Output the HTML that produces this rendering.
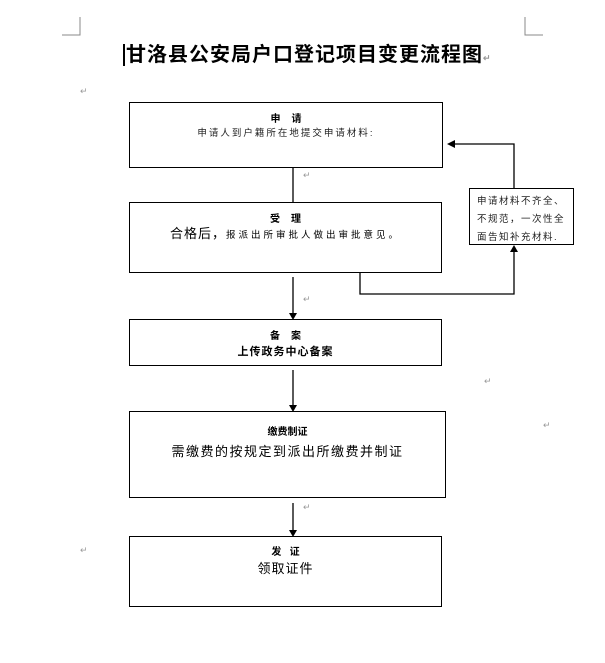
<!DOCTYPE html>
<html><head><meta charset="utf-8"><style>
body{margin:0;width:605px;height:663px;background:#fff;position:relative;overflow:hidden;font-family:"Liberation Sans","Noto Sans CJK SC",sans-serif;color:#000}
.a{position:absolute}
.box{position:absolute;border:1.3px solid #000;box-sizing:border-box;text-align:center}
.t{position:absolute;left:0;right:0;text-align:center;white-space:nowrap}
.m{color:#999;font-size:9px}
</style></head><body>
<svg class="a" style="left:0;top:0" width="605" height="663">
<g stroke="#888" fill="none" stroke-width="1">
<path d="M80 17V35H62"/><path d="M525 17V35H543"/>
</g>
<g stroke="#000" stroke-width="1.3" fill="none">
<path d="M293 168V202"/>
<path d="M293 277V314"/>
<path d="M293 370V406"/>
<path d="M293 503V531"/>
<path d="M360 273V294H514V251"/>
<path d="M514 188V144H454"/>
</g>
<g fill="#000">
<path d="M289 313L297 313L293 320Z"/>
<path d="M289 405L297 405L293 412Z"/>
<path d="M289 530L297 530L293 537Z"/>
<path d="M510 252L518 252L514 245Z"/>
<path d="M455 140L455 148L447 144Z"/>
</g>
</svg>
<div class="a" style="left:123px;top:38px;font-size:20px;font-weight:bold;letter-spacing:1px;white-space:nowrap"><span style="border-left:2px solid #000;padding-left:1px">甘洛县公安局户口登记项目变更流程图</span><span class="m">↵</span></div>
<div class="a m" style="left:80px;top:86px">↵</div>
<div class="box" style="left:129px;top:102px;width:314px;height:66px">
<div class="t" style="top:7px;font-size:10px;font-weight:bold">申&nbsp;&nbsp;&nbsp;&nbsp;请</div>
<div class="t" style="top:22px;font-size:9.5px;letter-spacing:2px;color:#222">申请人到户籍所在地提交申请材料:</div>
</div>
<div class="box" style="left:129px;top:202px;width:313px;height:71px">
<div class="t" style="top:7px;font-size:10px;font-weight:bold">受&nbsp;&nbsp;&nbsp;&nbsp;理</div>
<div class="t" style="top:20px;font-size:13px;letter-spacing:1px">合格后，<span style="font-size:9.5px;letter-spacing:3px">报派出所审批人做出审批意见。</span></div>
</div>
<div class="box" style="left:469px;top:188px;width:105px;height:57px;text-align:left;padding:4px 0 0 7px;font-size:9.5px;line-height:18px;letter-spacing:1.5px;color:#222">申请材料不齐全、<br>不规范，一次性全<br>面告知补充材料.</div>
<div class="box" style="left:129px;top:319px;width:313px;height:47px">
<div class="t" style="top:7px;font-size:10px;font-weight:bold">备&nbsp;&nbsp;&nbsp;&nbsp;案</div>
<div class="t" style="top:23px;font-size:11px;font-weight:bold;letter-spacing:1px">上传政务中心备案</div>
</div>
<div class="box" style="left:129px;top:411px;width:317px;height:87px">
<div class="t" style="top:11px;font-size:10px;font-weight:bold">缴费制证</div>
<div class="t" style="top:29px;font-size:13px;letter-spacing:1.5px">需缴费的按规定到派出所缴费并制证</div>
</div>
<div class="box" style="left:129px;top:536px;width:313px;height:71px">
<div class="t" style="top:6px;font-size:10px;font-weight:bold">发&nbsp;&nbsp;&nbsp;证</div>
<div class="t" style="top:21px;font-size:13px;letter-spacing:1px">领取证件</div>
</div>
<div class="a m" style="left:484px;top:376px">↵</div>
<div class="a m" style="left:543px;top:420px">↵</div>
<div class="a m" style="left:80px;top:545px">↵</div>
<div class="a m" style="left:303px;top:170px">↵</div>
<div class="a m" style="left:303px;top:294px">↵</div>
<div class="a m" style="left:303px;top:502px">↵</div>
</body></html>
